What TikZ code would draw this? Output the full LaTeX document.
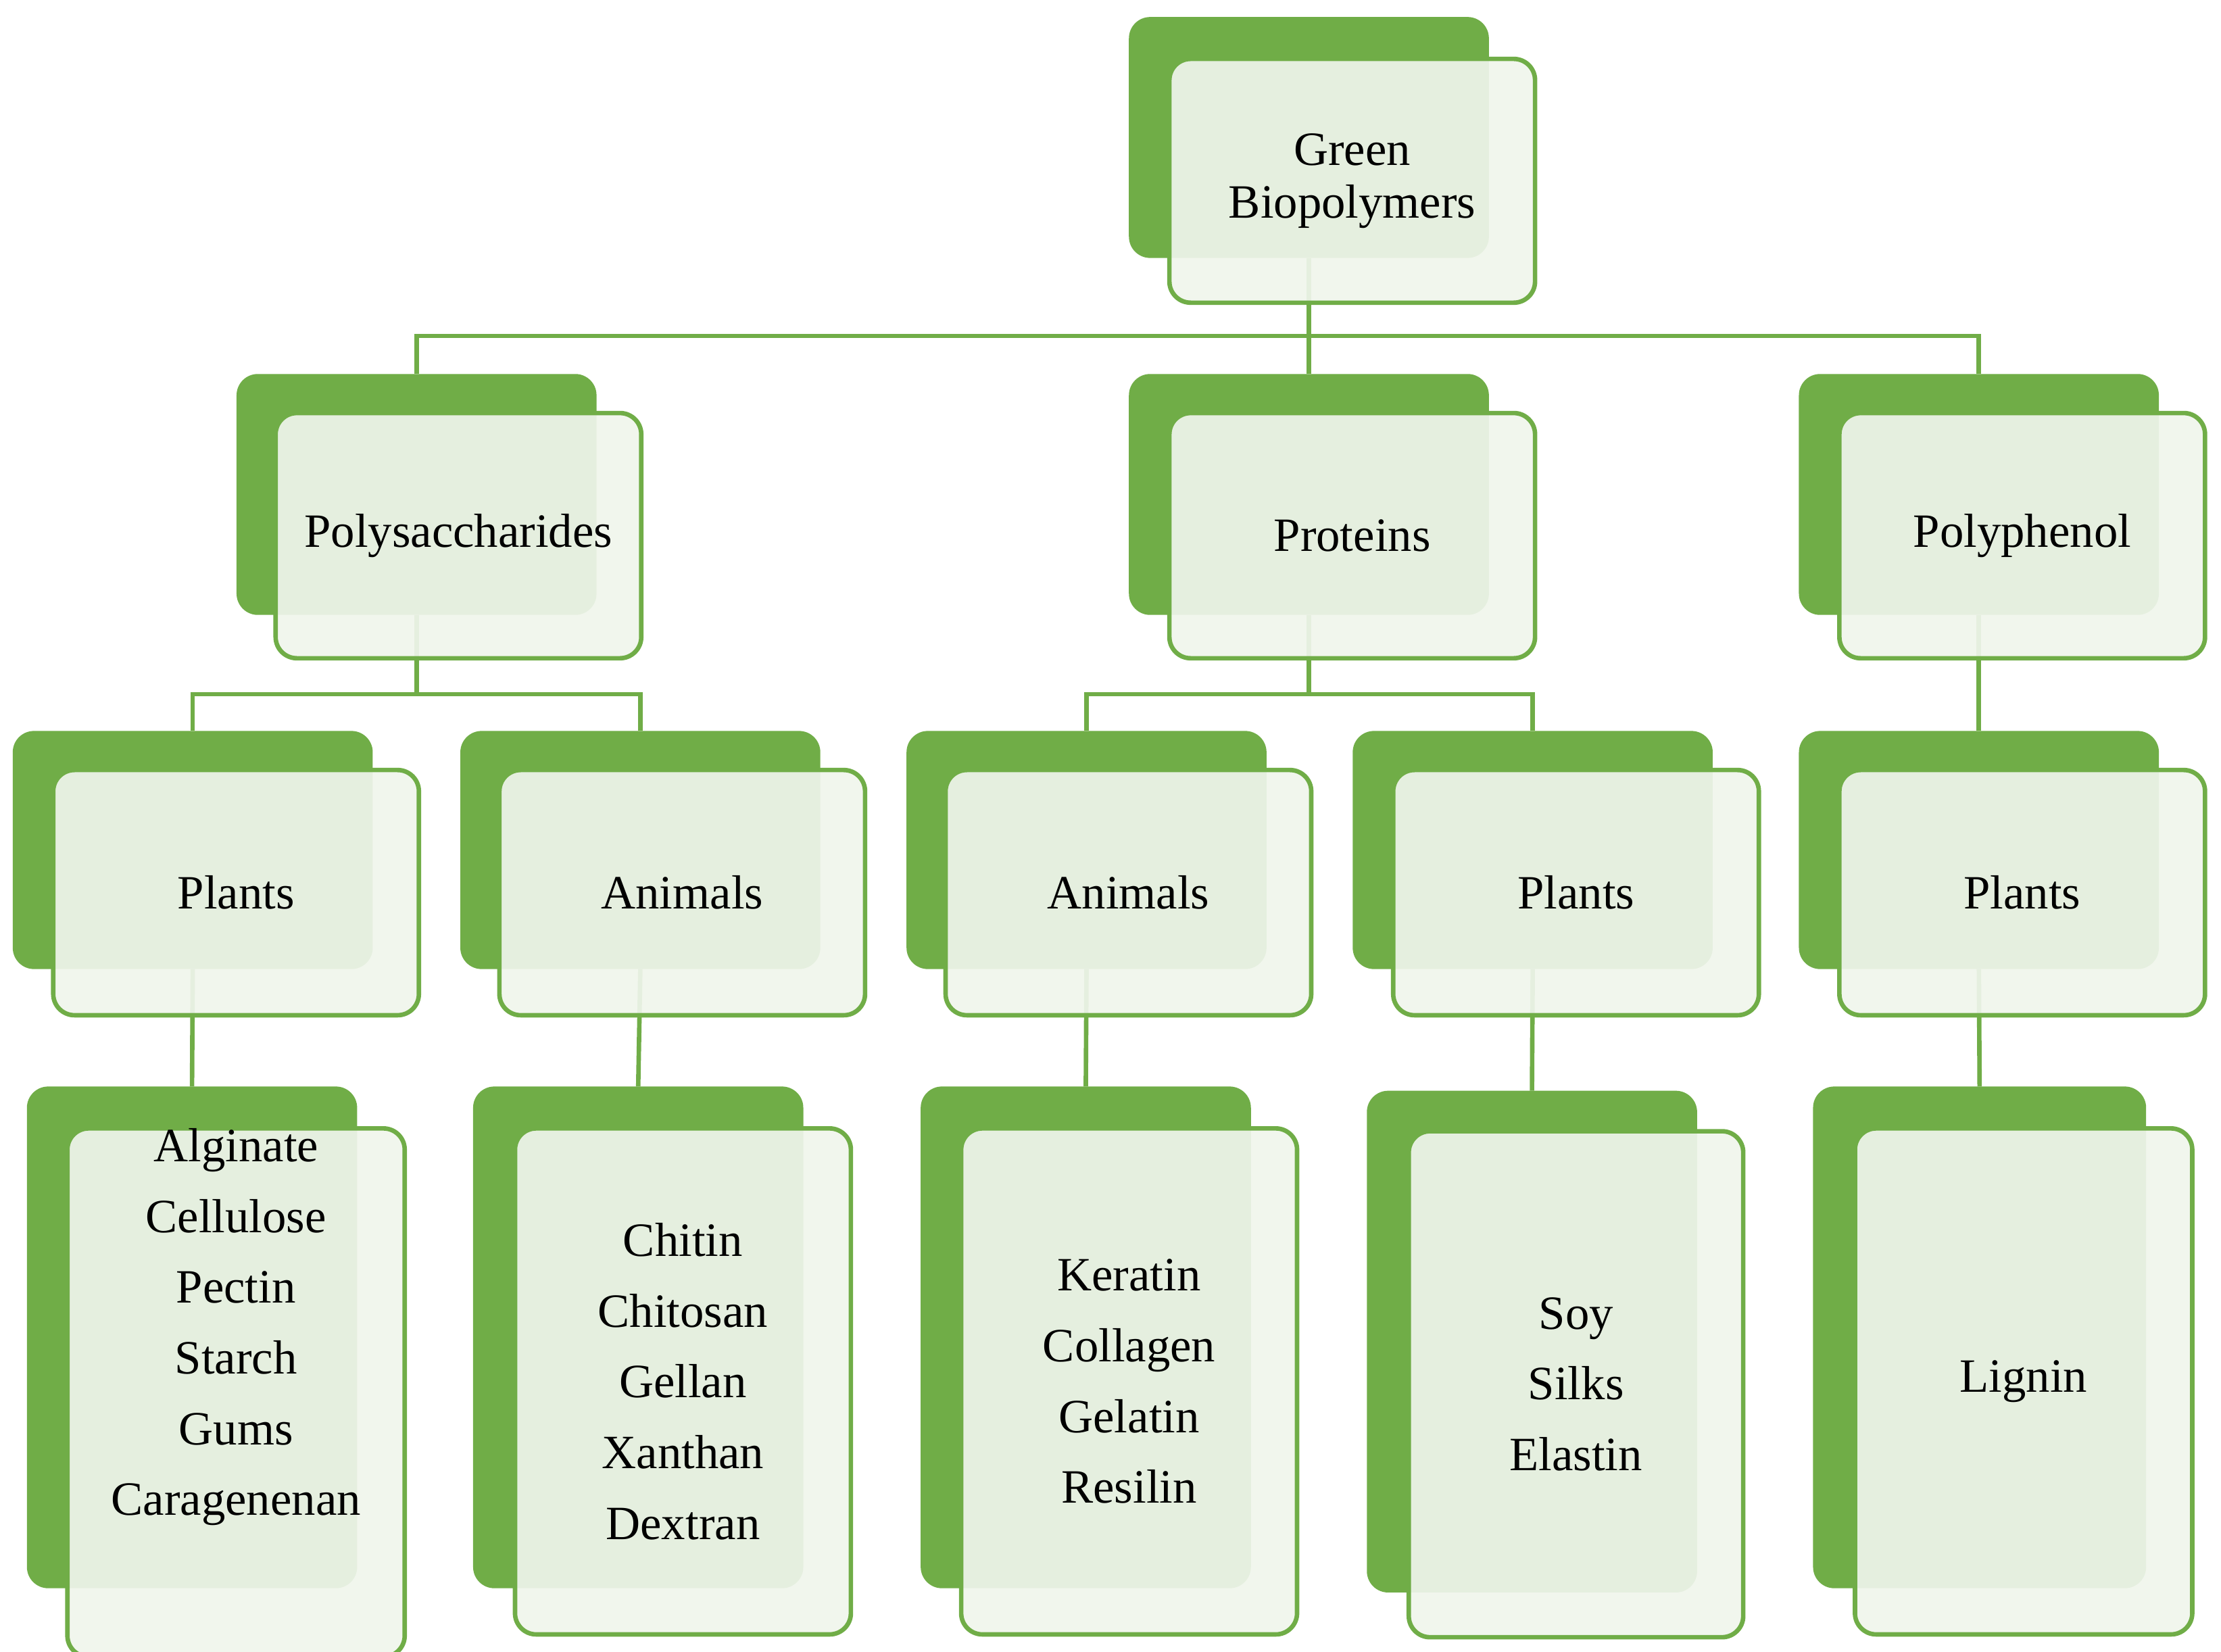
\documentclass[tikz,border=0pt]{standalone}
\usepackage{fontspec}
\setmainfont{Liberation Serif}
\usetikzlibrary{backgrounds}
\definecolor{leafgreen}{HTML}{70AD47}
\definecolor{paleleaf}{HTML}{F0F5EC}
\begin{document}
\begin{tikzpicture}[x=0.01cm,y=-0.01cm]
        \tikzstyle{back}=[rectangle,rounded corners=0.15cm,fill=leafgreen,anchor=north west,inner sep=0pt,outer sep=0pt,minimum width=2.54cm]
        \tikzstyle{front}=[rectangle,rounded corners=0.15cm,draw=leafgreen,line width=0.9pt,fill=paleleaf,fill opacity=0.92,text opacity=1,anchor=north west,inner sep=0pt,minimum width=2.58cm,align=center,font=\fontsize{9.6}{14.2}\selectfont]
        \tikzstyle{edge}=[draw=leafgreen,line width=0.9pt]
        \useasboundingbox (0,0) rectangle (1568,1166);
        % root and first level
        \node [back,minimum height=1.7cm] (root-b) at (797,12) {};
        \node [front,minimum height=1.72cm,font=\fontsize{9.6}{10.6}\selectfont] (root) at (824,40) {Green\\Biopolymers};
        \node [back,minimum height=1.7cm] (poly-b) at (167,264) {};
        \node [front,minimum height=1.73cm] (poly) at (193,290) {Polysaccharides};
        \node [back,minimum height=1.7cm] (prot-b) at (797,264) {};
        \node [front,minimum height=1.73cm] (prot) at (824,290) {Proteins};
        \node [back,minimum height=1.7cm] (phen-b) at (1270,264) {};
        \node [front,minimum height=1.73cm] (phen) at (1297,290) {Polyphenol};
        % second level
        \node [back,minimum height=1.68cm] (pplant-b) at (9,516) {};
        \node [front,minimum height=1.73cm] (pplant) at (36,542) {Plants};
        \node [back,minimum height=1.68cm] (panim-b) at (325,516) {};
        \node [front,minimum height=1.73cm] (panim) at (351,542) {Animals};
        \node [back,minimum height=1.68cm] (ranim-b) at (640,516) {};
        \node [front,minimum height=1.73cm] (ranim) at (666,542) {Animals};
        \node [back,minimum height=1.68cm] (rplant-b) at (955,516) {};
        \node [front,minimum height=1.73cm] (rplant) at (982,542) {Plants};
        \node [back,minimum height=1.68cm] (fplant-b) at (1270,516) {};
        \node [front,minimum height=1.73cm] (fplant) at (1297,542) {Plants};
        % third level
        \node [back,minimum width=2.33cm,minimum height=3.54cm] (l1-b) at (19,767) {};
        \node [front,minimum width=2.38cm,minimum height=3.57cm] (l1) at (46,795) {Alginate\\Cellulose\\Pectin\\Starch\\Gums\\Caragenenan\\[0.5cm]};
        \node [back,minimum width=2.33cm,minimum height=3.54cm] (l2-b) at (334,767) {};
        \node [front,minimum width=2.37cm,minimum height=3.57cm] (l2) at (362,795) {Chitin\\Chitosan\\Gellan\\Xanthan\\Dextran};
        \node [back,minimum width=2.33cm,minimum height=3.54cm] (l3-b) at (650,767) {};
        \node [front,minimum width=2.37cm,minimum height=3.57cm] (l3) at (677,795) {Keratin\\Collagen\\Gelatin\\Resilin};
        \node [back,minimum width=2.33cm,minimum height=3.54cm] (l4-b) at (965,770) {};
        \node [front,minimum width=2.36cm,minimum height=3.57cm] (l4) at (993,797) {Soy\\Silks\\Elastin};
        \node [back,minimum width=2.35cm,minimum height=3.54cm] (l5-b) at (1280,767) {};
        \node [front,minimum width=2.38cm,minimum height=3.57cm] (l5) at (1308,795) {Lignin};
        % connectors
        \begin{scope}[on background layer]
         \path[edge] (root-b.south) -- ++(0,55) -| (poly-b.north);
         \path[edge] (root-b.south) -- (prot-b.north);
         \path[edge] (root-b.south) -- ++(0,55) -| (phen-b.north);
         \path[edge] (poly-b.south) -- ++(0,56) -| (pplant-b.north);
         \path[edge] (poly-b.south) -- ++(0,56) -| (panim-b.north);
         \path[edge] (prot-b.south) -- ++(0,56) -| (ranim-b.north);
         \path[edge] (prot-b.south) -- ++(0,56) -| (rplant-b.north);
         \path[edge] (phen-b.south) -- (fplant-b.north);
         \path[edge] (pplant-b.south) -- (l1-b.north);
         \path[edge] (panim-b.south) -- (l2-b.north);
         \path[edge] (ranim-b.south) -- (l3-b.north);
         \path[edge] (rplant-b.south) -- (l4-b.north);
         \path[edge] (fplant-b.south) -- (l5-b.north);
        \end{scope}
\end{tikzpicture}
\end{document}
